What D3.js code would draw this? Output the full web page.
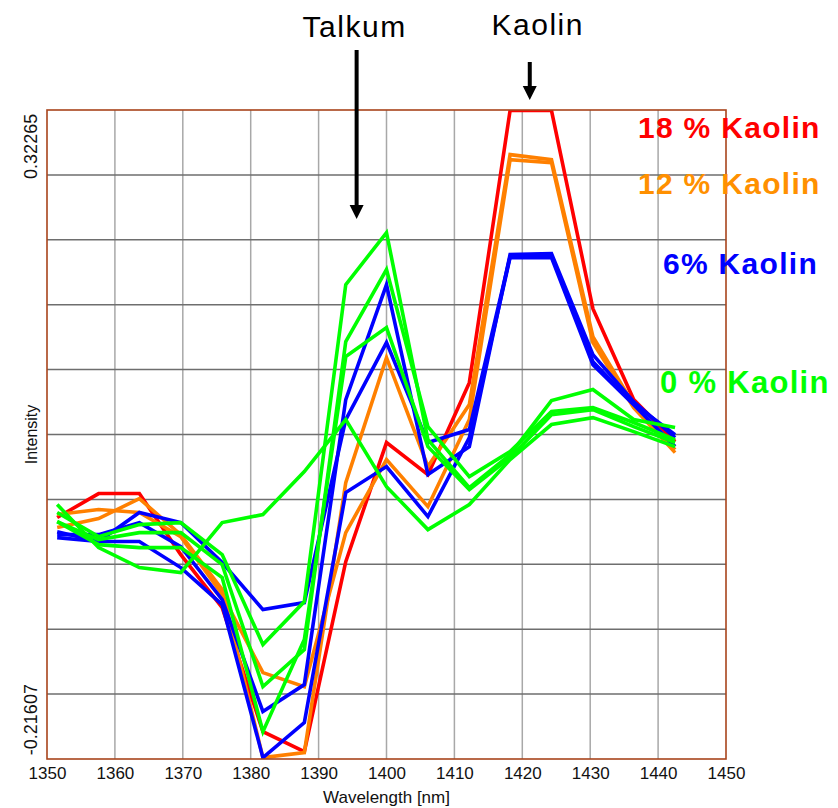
<!DOCTYPE html>
<html>
<head>
<meta charset="utf-8">
<title>NIR spectra - Kaolin</title>
<script src="https://cdn.jsdelivr.net/npm/d3@7/dist/d3.min.js"></script>
<style>
  html, body { margin: 0; padding: 0; background: #fff; }
  svg { display: block; font-family: "Liberation Sans", Arial, sans-serif; }
</style>
</head>
<body>
<svg class="svg-contents" width="838" height="808" viewBox="0 0 838 808"></svg>
<script>
  "use strict";

  // wavelengths of the measured points [nm]
  const wavelengths = [1351.5, 1357.6, 1363.6, 1369.7, 1375.8, 1381.8, 1387.9, 1394.0,
    1400.0, 1406.1, 1412.2, 1418.2, 1424.3, 1430.4, 1436.4, 1442.5];

  // 18 % Kaolin
  const red1 = [-0.0329, -0.0080, -0.0080, -0.0713, -0.1263, -0.2550, -0.2758, -0.0786,
    0.0449, 0.0117, 0.1071, 0.3894, 0.3894, 0.1839, 0.0895, 0.0459];

  // 12 % Kaolin
  const orange1 = [-0.0433, -0.0340, -0.0132, -0.0506, -0.1076, -0.2820, -0.2768, 0.0034,
    0.1331, 0.0200, 0.0843, 0.3437, 0.3385, 0.1549, 0.0843, 0.0376];
  const orange2 = [-0.0298, -0.0246, -0.0277, -0.0527, -0.1128, -0.1938, -0.2083, -0.0485,
    0.0273, -0.0215, 0.0688, 0.3385, 0.3354, 0.1487, 0.0812, 0.0345];

  // 6 % Kaolin
  const blue1 = [-0.0506, -0.0506, -0.0381, -0.0630, -0.1180, -0.2342, -0.2062, 0.0895,
    0.2088, 0.0117, 0.0407, 0.2400, 0.2410, 0.1362, 0.0874, 0.0501];
  const blue2 = [-0.0475, -0.0578, -0.0277, -0.0381, -0.0796, -0.1284, -0.1211, 0.0688,
    0.1487, 0.0449, 0.0584, 0.2379, 0.2389, 0.1289, 0.0853, 0.0532];
  const blue3 = [-0.0537, -0.0578, -0.0578, -0.0848, -0.1232, -0.2820, -0.2457, -0.0070,
    0.0200, -0.0319, 0.0501, 0.2368, 0.2368, 0.1258, 0.0843, 0.0407];

  // 0 % Kaolin
  const green1 = [-0.0277, -0.0527, -0.0402, -0.0381, -0.0713, -0.1647, -0.1201, 0.2088,
    0.2628, 0.0480, -0.0018, 0.0324, 0.0885, 0.0999, 0.0688, 0.0605];
  const green2 = [-0.0371, -0.0558, -0.0485, -0.0485, -0.0817, -0.2083, -0.1699, 0.1497,
    0.2244, 0.0615, 0.0096, 0.0355, 0.0771, 0.0812, 0.0657, 0.0480];
  const green3 = [-0.0371, -0.0610, -0.0641, -0.0641, -0.0952, -0.2550, -0.1595, 0.1341,
    0.1642, 0.0407, -0.0039, 0.0293, 0.0739, 0.0791, 0.0615, 0.0449];
  const green4 = [-0.0194, -0.0641, -0.0848, -0.0900, -0.0381, -0.0298, 0.0148, 0.0688,
    -0.0008, -0.0454, -0.0194, 0.0273, 0.0636, 0.0708, 0.0563, 0.0407];

  const xTicks = [1350, 1360, 1370, 1380, 1390, 1400, 1410, 1420, 1430, 1440, 1450];
  const yTickLabels = [0.32265, -0.21607];

  const legendLabels = ['18 % Kaolin', '12 % Kaolin', '6% Kaolin', '0 % Kaolin'];
  const annotations = ['Talkum', 'Kaolin'];
  const annotationX = [1395.6, 1421.1];

  const COLORS = {
    red: '#ff0000',
    orange: '#ff8000',
    blue: '#0000ff',
    green: '#00ff00'
  };

  setChart(d3.select('.svg-contents'));

  function setChart(svg) {
    let paddingLeft = 47,
      paddingRight = 112,
      paddingTop = 110,
      paddingBottom = 49,
      width = +svg.attr('width'),
      height = +svg.attr('height');

    let scaleX = d3.scaleLinear()
      .domain([1350, 1450])
      .range([paddingLeft, width - paddingRight]);

    let scaleY = d3.scaleLinear()
      .domain([-0.28341, 0.38999])
      .range([height - paddingBottom, paddingTop]);

    /*
     * grid
     */
    let yDomain = scaleY.domain(),
      yGrid = d3.range(1, 10).map(function (i) {
        return yDomain[0] + (yDomain[1] - yDomain[0]) * i / 10;
      });

    let grid = svg.append('g').attr('class', 'grid');

    grid.selectAll('line.gx')
      .data(xTicks.slice(1, -1))
      .enter()
      .append('line')
      .attr('class', 'gx')
      .attr('x1', function (d) { return scaleX(d); })
      .attr('x2', function (d) { return scaleX(d); })
      .attr('y1', paddingTop)
      .attr('y2', height - paddingBottom)
      .attr('stroke', '#a8a8a8')
      .attr('stroke-width', 1.5);

    grid.selectAll('line.gy')
      .data(yGrid)
      .enter()
      .append('line')
      .attr('class', 'gy')
      .attr('x1', paddingLeft)
      .attr('x2', width - paddingRight)
      .attr('y1', function (d) { return scaleY(d); })
      .attr('y2', function (d) { return scaleY(d); })
      .attr('stroke', '#6e6e6e')
      .attr('stroke-width', 1.5);

    /*
     * axes (labels only, no domain line)
     */
    let axisX = d3.axisBottom(scaleX)
      .tickValues(xTicks)
      .tickFormat(d3.format('d'))
      .tickSize(0)
      .tickPadding(8);

    let gx = svg.append('g')
      .attr('class', 'axis-x')
      .attr('transform', 'translate(0,' + (height - paddingBottom) + ')')
      .call(axisX);
    gx.select('.domain').remove();
    gx.selectAll('text')
      .attr('font-family', '"Liberation Sans", Arial, sans-serif')
      .attr('font-size', 17)
      .attr('fill', '#111');

    let gy = svg.append('g').attr('class', 'axis-y');
    gy.selectAll('text')
      .data(yTickLabels)
      .enter()
      .append('text')
      .attr('transform', function (d, i) {
        let y = i === 0 ? scaleY(d) + 4 : scaleY(d) - 10;
        return 'translate(37,' + y + ') rotate(-90)';
      })
      .attr('text-anchor', function (d, i) { return i === 0 ? 'start' : 'end'; })
      .attr('font-size', 18)
      .attr('fill', '#111')
      .text(function (d) { return d; });

    svg.append('text')
      .attr('x', (scaleX(1350) + scaleX(1450)) / 2)
      .attr('y', 803)
      .attr('text-anchor', 'middle')
      .attr('font-size', 17)
      .attr('fill', '#111')
      .text('Wavelength [nm]');

    svg.append('text')
      .attr('transform', 'translate(37,' + ((paddingTop + height - paddingBottom) / 2) + ') rotate(-90)')
      .attr('text-anchor', 'middle')
      .attr('font-size', 16)
      .attr('fill', '#111')
      .text('Intensity');

    /*
     * spectra
     */
    svg.append('clipPath')
      .attr('id', 'plot-clip')
      .append('rect')
      .attr('x', paddingLeft)
      .attr('y', paddingTop)
      .attr('width', width - paddingLeft - paddingRight)
      .attr('height', height - paddingTop - paddingBottom);

    let series = [
      {values: red1, color: COLORS.red},
      {values: orange2, color: COLORS.orange},
      {values: orange1, color: COLORS.orange},
      {values: blue2, color: COLORS.blue},
      {values: blue1, color: COLORS.blue},
      {values: blue3, color: COLORS.blue},
      {values: green4, color: COLORS.green},
      {values: green3, color: COLORS.green},
      {values: green2, color: COLORS.green},
      {values: green1, color: COLORS.green}
    ];

    let line = d3.line()
      .x(function (d, i) { return scaleX(wavelengths[i]); })
      .y(function (d) { return scaleY(d); });

    svg.append('g')
      .attr('class', 'lines')
      .attr('clip-path', 'url(#plot-clip)')
      .selectAll('path')
      .data(series)
      .enter()
      .append('path')
      .attr('d', function (d) { return line(d.values); })
      .attr('fill', 'none')
      .attr('stroke', function (d) { return d.color; })
      .attr('stroke-width', 3.6)
      .attr('stroke-linejoin', 'miter');

    /*
     * frame
     */
    svg.append('rect')
      .attr('x', paddingLeft)
      .attr('y', paddingTop)
      .attr('width', width - paddingLeft - paddingRight)
      .attr('height', height - paddingTop - paddingBottom)
      .attr('fill', 'none')
      .attr('stroke', '#a8441c')
      .attr('stroke-width', 1.6);

    /*
     * legend labels
     */
    let legendColors = [COLORS.red, '#ff9000', COLORS.blue, COLORS.green],
      legendX = [638, 638, 663, 660],
      legendY = [138, 194, 274, 393],
      legendSize = [30, 30, 30, 31];

    svg.append('g')
      .attr('class', 'legend')
      .selectAll('text')
      .data(legendLabels)
      .enter()
      .append('text')
      .attr('x', function (d, i) { return legendX[i]; })
      .attr('y', function (d, i) { return legendY[i]; })
      .attr('font-size', function (d, i) { return legendSize[i]; })
      .attr('font-weight', 'bold')
      .attr('letter-spacing', 1.3)
      .attr('fill', function (d, i) { return legendColors[i]; })
      .text(function (d) { return d; });

    /*
     * annotations with arrows
     */
    let arrowTop = [50, 62],
      arrowTip = [219, 100],
      labelY = [37, 35],
      labelShift = [-2, 8];

    let notes = svg.append('g').attr('class', 'notes');

    annotations.forEach(function (name, i) {
      let x = scaleX(annotationX[i]);

      notes.append('text')
        .attr('x', x + labelShift[i])
        .attr('y', labelY[i])
        .attr('text-anchor', 'middle')
        .attr('font-size', 30)
        .attr('letter-spacing', 1.5)
        .attr('fill', '#000')
        .text(name);

      notes.append('line')
        .attr('x1', x)
        .attr('x2', x)
        .attr('y1', arrowTop[i])
        .attr('y2', arrowTip[i] - 12)
        .attr('stroke', '#000')
        .attr('stroke-width', 4);

      notes.append('path')
        .attr('d', 'M' + (x - 7) + ',' + (arrowTip[i] - 14) +
          'L' + (x + 7) + ',' + (arrowTip[i] - 14) +
          'L' + x + ',' + arrowTip[i] + 'Z')
        .attr('fill', '#000');
    });
  }
</script>
</body>
</html>
